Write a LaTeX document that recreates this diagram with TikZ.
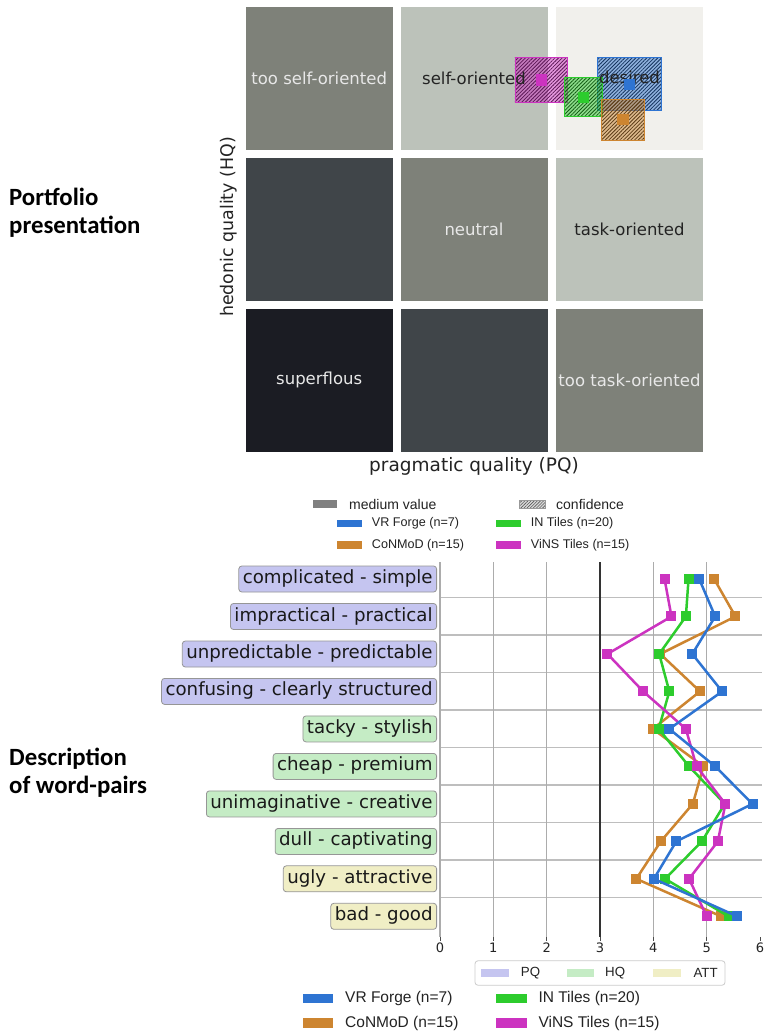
\documentclass[tikz,border=0pt]{standalone}
\usepackage{fontspec}
\setmainfont{DejaVu Sans}
\newfontfamily\carl{Carlito}
\newfontfamily\arl{Liberation Sans}
\usetikzlibrary{patterns.meta}
\definecolor{cmid}{RGB}{126,129,121}
\definecolor{clight}{RGB}{188,194,186}
\definecolor{cpale}{RGB}{241,240,236}
\definecolor{cdark}{RGB}{64,69,73}
\definecolor{cdeep}{RGB}{27,28,35}
\definecolor{lighttxt}{RGB}{232,232,232}
\definecolor{darktxt}{RGB}{35,35,35}
\definecolor{colB}{RGB}{46,116,210}
\definecolor{colO}{RGB}{205,133,48}
\definecolor{colG}{RGB}{45,204,45}
\definecolor{colM}{RGB}{204,51,192}
\definecolor{pq}{RGB}{197,197,240}
\definecolor{hq}{RGB}{197,236,197}
\definecolor{att}{RGB}{240,238,197}
\definecolor{labborder}{RGB}{150,150,150}
\definecolor{gridc}{RGB}{190,190,190}
\begin{document}
\begin{tikzpicture}[x=1pt,y=-1pt,
  cell/.style={minimum width=147pt, minimum height=143pt, inner sep=0pt, draw=none},
  lt/.style={text=lighttxt, font=\fontsize{16.5}{20}\selectfont, inner sep=0pt},
  dt/.style={text=darktxt, font=\fontsize{16.5}{20}\selectfont, inner sep=0pt},
  hatch/.style={draw=#1, line width=0.8pt, inner sep=0pt,
    preaction={fill=#1, fill opacity=0.5},
    pattern={Lines[angle=45,distance=2.6pt,line width=0.8pt]}, pattern color=#1!45!black},
  mk/.style={fill=#1, minimum size=10pt, inner sep=0pt, draw=none},
  bigmk/.style={fill=#1, minimum size=11.5pt, inner sep=0pt, draw=none},
  lab/.style={draw=labborder, rounded corners=3pt, line width=0.8pt, anchor=east,
    inner xsep=4pt, minimum height=26pt, text height=13pt, text depth=4pt,
    font=\fontsize{18.2}{22}\selectfont, text=black!90},
  sw/.style={inner sep=0pt, draw=none},
  heading/.style={font=\carl\bfseries\fontsize{24.8}{30}\selectfont, anchor=west, inner sep=0pt, align=left},
  axl/.style={font=\fontsize{18.5}{22}\selectfont, text=darktxt, inner sep=0pt},
  lg1/.style={font=\arl\fontsize{14}{16}\selectfont, text=darktxt, anchor=west, inner sep=0pt},
  lg2/.style={font=\arl\fontsize{12.6}{15}\selectfont, text=darktxt, anchor=west, inner sep=0pt},
  lg3/.style={font=\arl\fontsize{15.5}{18}\selectfont, text=darktxt, anchor=west, inner sep=0pt},
  lg4/.style={font=\arl\fontsize{13.3}{16}\selectfont, text=darktxt, anchor=west, inner sep=0pt},
  tick/.style={font=\fontsize{13}{15}\selectfont, text=darktxt, inner sep=0pt},
  dataline/.style={line width=2.5pt, draw=#1, line join=round}
]
\useasboundingbox[fill=white] (0,0) rectangle (764,1032);

% ---------- headings ----------
\node[heading] (h1) at (9,213) {Portfolio\\[-2pt]presentation};
\node[heading] (h2) at (9,773) {Description\\[-2pt]of word-pairs};

% ---------- portfolio grid ----------
\node[cell, fill=cmid]   (c11) at (319.2,78.3) {};
\node[cell, fill=clight] (c12) at (474.0,78.3) {};
\node[cell, fill=cpale]  (c13) at (629.5,78.3) {};
\node[cell, fill=cdark]  (c21) at (319.2,229.2) {};
\node[cell, fill=cmid]   (c22) at (474.0,229.2) {};
\node[cell, fill=clight] (c23) at (629.5,229.2) {};
\node[cell, fill=cdeep]  (c31) at (319.2,380.0) {};
\node[cell, fill=cdark]  (c32) at (474.0,380.0) {};
\node[cell, fill=cmid]   (c33) at (629.5,380.0) {};

% confidence rectangles
\node[hatch=colM, minimum width=52.7pt, minimum height=45pt] (rm) at (541.3,79.8) {};
\node[hatch=colB, minimum width=64pt, minimum height=52.7pt] (rb) at (629,83.7) {};
\node[hatch=colG, minimum width=38pt, minimum height=39pt] (rg) at (583.3,97.2) {};
\node[hatch=colO, minimum width=42.7pt, minimum height=40.7pt] (ro) at (622.7,119.7) {};

\node[lt] (t11) at (c11) {too self-oriented};
\node[dt] (t12) at (c12) {self-oriented};
\node[dt] (t13) at (629.5,77) {desired};
\node[lt] (t22) at (c22) {neutral};
\node[dt] (t23) at (c23) {task-oriented};
\node[lt] (t31) at (c31) {superflous};
\node[lt] (t33) at (c33) {too task-oriented};

\node[bigmk=colM] (pm) at (541.5,80) {};
\node[bigmk=colG] (pg) at (583.5,97.5) {};
\node[bigmk=colB] (pb) at (629.5,84.3) {};
\node[bigmk=colO] (po) at (623,119.7) {};

\node[axl, rotate=90, font=\fontsize{17.4}{21}\selectfont] (ylab) at (229,227) {hedonic quality (HQ)};
\node[axl] (xlab) at (474,466) {pragmatic quality (PQ)};

% ---------- top legend ----------
\node[sw, fill=gray, minimum width=24.5pt, minimum height=8pt] (lgm) at (325,504) {};
\node[lg1] (lgmt) at (349,504) {medium value};
\node[sw, draw=gray!80, line width=0.3pt, preaction={fill=gray!30}, pattern={Lines[angle=45,distance=2.2pt,line width=0.6pt]}, pattern color=gray!70!black, minimum width=26pt, minimum height=8pt] (lgc) at (532,504) {};
\node[lg1] (lgct) at (556,504) {confidence};
\node[sw, fill=colB, minimum width=25.6pt, minimum height=7.5pt] (lb1) at (349.5,523.5) {};
\node[lg2] (lb1t) at (371.7,523.5) {VR Forge (n=7)};
\node[sw, fill=colG, minimum width=25.3pt, minimum height=7.5pt] (lg1s) at (508.3,523.5) {};
\node[lg2] (lg1t) at (530.7,523.5) {IN Tiles (n=20)};
\node[sw, fill=colO, minimum width=25.6pt, minimum height=7.5pt] (lo1) at (349.5,545) {};
\node[lg2] (lo1t) at (371.7,545) {CoNMoD (n=15)};
\node[sw, fill=colM, minimum width=25.3pt, minimum height=7.5pt] (lm1) at (508.3,545) {};
\node[lg2] (lm1t) at (530.7,545) {ViNS Tiles (n=15)};

% ---------- chart grid ----------
\begin{scope}[shift={(440,0)}, x=53.333pt]
  \foreach \k in {0,...,8} {
    \draw[gridc, line width=1.4pt] (0,{597.7+\k*37.48}) -- (6.03,{597.7+\k*37.48});
  }
  \foreach \v in {0,1,2,4,5} {
    \draw[gray!65, line width=1.1pt] (\v,562) -- (\v,937);
  }
  \draw[black!80, line width=1.5pt] (3,562) -- (3,937);
  \foreach \v in {0,...,6} {
    \draw[black!70, line width=0.8pt] (\v,937) -- (\v,941);
    \node[tick] (tk\v) at (\v,948) {\v};
  }

  % data coordinates
  \foreach \v [count=\i] in {4.86,5.16,4.73,5.29,4.30,5.16,5.86,4.43,4.01,5.57}
    \coordinate (b\i) at (\v,{579+(\i-1)*37.48});
  \foreach \v [count=\i] in {5.14,5.54,4.13,4.875,3.99,4.94,4.74,4.14,3.68,5.27}
    \coordinate (o\i) at (\v,{579+(\i-1)*37.48});
  \foreach \v [count=\i] in {4.66,4.61,4.11,4.30,4.10,4.67,5.34,4.91,4.22,5.41}
    \coordinate (g\i) at (\v,{579+(\i-1)*37.48});
  \foreach \v [count=\i] in {4.21,4.34,3.14,3.81,4.61,4.81,5.35,5.21,4.67,5.00}
    \coordinate (m\i) at (\v,{579+(\i-1)*37.48});

  \draw[dataline=colO] (o1) \foreach \i in {2,...,10} { -- (o\i) };
  \foreach \i in {1,...,10} \node[mk=colO] (mo\i) at (o\i) {};
  \draw[dataline=colG] (g1) \foreach \i in {2,...,10} { -- (g\i) };
  \foreach \i in {1,...,10} \node[mk=colG] (mg\i) at (g\i) {};
  \draw[dataline=colM] (m1) \foreach \i in {2,...,10} { -- (m\i) };
  \foreach \i in {1,...,10} \node[mk=colM] (mm\i) at (m\i) {};
  \draw[dataline=colB] (b1) \foreach \i in {2,...,10} { -- (b\i) };
  \foreach \i in {1,...,10} \node[mk=colB] (mb\i) at (b\i) {};
\end{scope}

% ---------- word-pair labels ----------
\node[lab, fill=pq]  (l1)  at (437,579.0) {complicated - simple};
\node[lab, fill=pq]  (l2)  at (437,616.5) {impractical - practical};
\node[lab, fill=pq]  (l3)  at (437,654.0) {unpredictable - predictable};
\node[lab, fill=pq]  (l4)  at (437,691.4) {confusing - clearly structured};
\node[lab, fill=hq]  (l5)  at (437,728.9) {tacky - stylish};
\node[lab, fill=hq]  (l6)  at (437,766.4) {cheap - premium};
\node[lab, fill=hq]  (l7)  at (437,803.9) {unimaginative - creative};
\node[lab, fill=hq]  (l8)  at (437,841.4) {dull - captivating};
\node[lab, fill=att] (l9)  at (437,878.8) {ugly - attractive};
\node[lab, fill=att] (l10) at (437,916.3) {bad - good};

% ---------- bottom legends ----------
\node[draw=black!20, fill=white, rounded corners=3pt, line width=0.8pt, minimum width=250pt, minimum height=24.5pt, inner sep=0pt] (lgbox) at (600,973) {};
\node[sw, fill=pq, minimum width=27.7pt, minimum height=8pt] (sPQ) at (495,973) {};
\node[lg4] (tPQ) at (520.7,973) {PQ};
\node[sw, fill=hq, minimum width=27.7pt, minimum height=8pt] (sHQ) at (580.5,973) {};
\node[lg4] (tHQ) at (605,973) {HQ};
\node[sw, fill=att, minimum width=27.7pt, minimum height=8pt] (sATT) at (667,973) {};
\node[lg4] (tATT) at (693.3,973) {ATT};

\node[sw, fill=colB, minimum width=30.6pt, minimum height=9.5pt] (lb2) at (318,998.7) {};
\node[lg3] (lb2t) at (345,998.7) {VR Forge (n=7)};
\node[sw, fill=colG, minimum width=31.3pt, minimum height=9.5pt] (lg2s) at (511.6,998.7) {};
\node[lg3] (lg2t) at (538.3,998.7) {IN Tiles (n=20)};
\node[sw, fill=colO, minimum width=30.6pt, minimum height=9.5pt] (lo2) at (318,1023) {};
\node[lg3] (lo2t) at (345,1023) {CoNMoD (n=15)};
\node[sw, fill=colM, minimum width=31.3pt, minimum height=9.5pt] (lm2) at (511.6,1023) {};
\node[lg3] (lm2t) at (538.3,1023) {ViNS Tiles (n=15)};
\end{tikzpicture}
\end{document}
